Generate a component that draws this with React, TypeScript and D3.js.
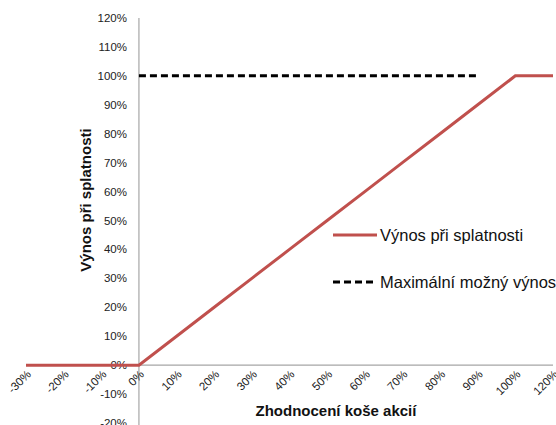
import React from "react";
import * as d3 from "d3";

const xCategories = ["-30%", "-20%", "-10%", "0%", "10%", "20%", "30%", "40%", "50%", "60%", "70%", "80%", "90%", "100%", "120%"];
const returnValues: (number | null)[] = [0, 0, 0, 0, 10, 20, 30, 40, 50, 60, 70, 80, 90, 100, 100];
const maxValues: (number | null)[] = [null, null, null, 100, 100, 100, 100, 100, 100, 100, 100, 100, 100, null, null];
const yTicks = [-20, -10, 0, 10, 20, 30, 40, 50, 60, 70, 80, 90, 100, 110, 120];
const seriesNames = ["Výnos při splatnosti", "Maximální možný výnos"];
const xTitle = "Zhodnocení koše akcií";
const yTitle = "Výnos při splatnosti";

const W = 556, H = 425;
const FONT = "'Liberation Sans', Arial, sans-serif";

export default function App() {
  const x = d3.scalePoint<string>().domain(xCategories).range([26, 553]);
  const y = d3.scaleLinear().domain([-20, 120]).range([423, 18]);
  const x0 = x("0%") as number;
  const y0 = y(0);

  const line = d3
    .line<number | null>()
    .defined((d) => d !== null)
    .x((_, i) => x(xCategories[i]) as number)
    .y((d) => y(d as number));

  return (
    <svg width={W} height={H} style={{ position: "absolute", left: 0, top: 0, background: "#fff" }} fontFamily={FONT}>
      {/* axes */}
      <line x1={x0} x2={x0} y1={y(120)} y2={H} stroke="#a6a6a6" strokeWidth={1.2} />
      <line x1={26} x2={553} y1={y0} y2={y0} stroke="#a6a6a6" strokeWidth={1.2} />
      {/* y ticks */}
      {yTicks.map((t) => (
        <text key={t} x={127} y={y(t)} dy="0.35em" textAnchor="end" fontSize={11.5} fill="#222">
          {t + "%"}
        </text>
      ))}
      {/* x ticks */}
      {xCategories.map((c) => (
        <text
          key={c}
          transform={`translate(${(x(c) as number) + 3},${y0 + 7}) rotate(-45)`}
          textAnchor="end"
          dy="0.35em"
          fontSize={11.5}
          fill="#222"
        >
          {c}
        </text>
      ))}
      {/* series */}
      <path d={line(maxValues) || ""} fill="none" stroke="#000" strokeWidth={3} strokeDasharray="7,4" />
      <path d={line(returnValues) || ""} fill="none" stroke="#C0504D" strokeWidth={3} />
      {/* titles */}
      <text x={336} y={416} textAnchor="middle" fontSize={15} fontWeight="bold" fill="#111">
        {xTitle}
      </text>
      <text transform={`translate(91,200) rotate(-90)`} textAnchor="middle" fontSize={15} fontWeight="bold" fill="#111">
        {yTitle}
      </text>
      {/* legend */}
      <line x1={333} x2={377} y1={235} y2={235} stroke="#C0504D" strokeWidth={3} />
      <text x={380} y={235} dy="0.35em" fontSize={16.5} fill="#111">{seriesNames[0]}</text>
      <line x1={333} x2={377} y1={282} y2={282} stroke="#000" strokeWidth={3} strokeDasharray="7,4" />
      <text x={380} y={282} dy="0.35em" fontSize={16.5} fill="#111">{seriesNames[1]}</text>
    </svg>
  );
}
